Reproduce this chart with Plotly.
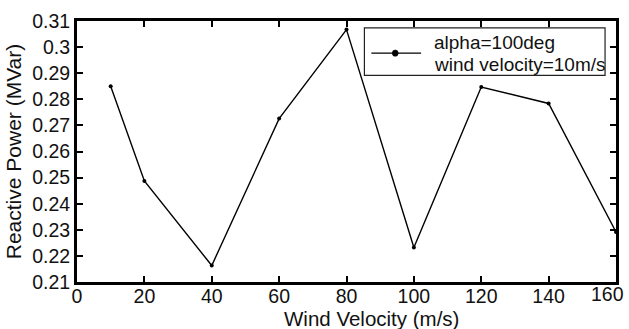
import plotly.graph_objects as go

# Wind velocity samples (m/s) and reactive power (MVar)
wind_velocity = [10, 20, 40, 60, 80, 100, 120, 140, 160]
reactive_power = [0.285, 0.2487, 0.2163, 0.2726, 0.3067, 0.2232, 0.2847, 0.2784, 0.2292]

x_ticks = [0, 20, 40, 60, 80, 100, 120, 140, 160]
x_tick_text = ["0", "20", "40", "60", "80", "100", "120", "140", ""]
y_ticks = [0.21, 0.22, 0.23, 0.24, 0.25, 0.26, 0.27, 0.28, 0.29, 0.30, 0.31]
y_tick_text = ["0.21", "0.22", "0.23", "0.24", "0.25", "0.26", "0.27", "0.28", "0.29", "0.3", "0.31"]

legend_lines = ["alpha=100deg", "wind velocity=10m/s"]

W, H = 629, 329
ML, MR, MT, MB = 77, 10, 18, 47
PW, PH = W - ML - MR, H - MT - MB

font_family = "Liberation Sans, Arial, sans-serif"
ink = "#111"


def px(x):
    """Horizontal pixel position -> paper coordinate."""
    return (x - ML) / PW


def py(y):
    """Vertical pixel position (from top) -> paper coordinate."""
    return (H - MB - y) / PH


fig = go.Figure()
fig.add_trace(go.Scatter(
    x=wind_velocity,
    y=reactive_power,
    mode="lines+markers",
    name=" ".join(legend_lines),
    line=dict(color="black", width=1.4),
    marker=dict(color="black", size=4, symbol="circle"),
    showlegend=False,
))

axis_common = dict(
    showline=True,
    linecolor="black",
    linewidth=3,
    mirror="allticks",
    ticks="inside",
    ticklen=6,
    tickwidth=1.5,
    tickcolor="black",
    showgrid=False,
    zeroline=False,
    tickfont=dict(family=font_family, size=19.5, color=ink),
)

fig.update_xaxes(range=[0, 160], tickvals=x_ticks, ticktext=x_tick_text,
                 ticklabelstandoff=-5, **axis_common)
fig.update_yaxes(
    range=[0.21, 0.31],
    tickvals=y_ticks,
    ticktext=y_tick_text,
    title=dict(text="Reactive Power (MVar)", font=dict(family=font_family, size=21, color=ink), standoff=5),
    **axis_common,
)

annotations = [
    # x-axis title
    dict(text="Wind Velocity (m/s)", xref="paper", yref="paper", x=px(373.5), y=py(319),
         xanchor="center", yanchor="middle", showarrow=False,
         font=dict(family=font_family, size=20.5, color=ink)),
    # last x tick label, nudged inside the page edge
    dict(text="160", xref="x", yref="paper", x=160, y=0, xanchor="center", yanchor="top",
         xshift=-9, yshift=1, showarrow=False,
         font=dict(family=font_family, size=19.5, color=ink)),
]

# legend box: frame, line sample with marker, two text lines
legend_left, legend_right, legend_top, legend_bottom = 366, 608, 25, 73
sample_y = 50.5
shapes = [
    dict(type="rect", xref="paper", yref="paper",
         x0=px(legend_left), x1=px(legend_right), y0=py(legend_bottom), y1=py(legend_top),
         line=dict(color="#222", width=1.2), fillcolor="white", layer="above"),
    dict(type="line", xref="paper", yref="paper",
         x0=px(373), x1=px(423), y0=py(sample_y), y1=py(sample_y),
         line=dict(color="black", width=1.4), layer="above"),
    dict(type="circle", xref="paper", yref="paper",
         x0=px(394), x1=px(400), y0=py(sample_y + 3.2), y1=py(sample_y - 3.2),
         line=dict(color="black", width=0.5), fillcolor="black", layer="above"),
]
for text, cy in zip(legend_lines, [39.5, 61.5]):
    annotations.append(dict(text=text, xref="paper", yref="paper", x=px(434), y=py(cy),
                            xanchor="left", yanchor="middle", showarrow=False,
                            font=dict(family=font_family, size=19, color=ink)))

fig.update_layout(
    width=W,
    height=H,
    margin=dict(l=ML, r=MR, t=MT, b=MB),
    paper_bgcolor="white",
    plot_bgcolor="white",
    font=dict(family=font_family, color=ink),
    showlegend=False,
    shapes=shapes,
    annotations=annotations,
)

fig.write_html("out.html")
